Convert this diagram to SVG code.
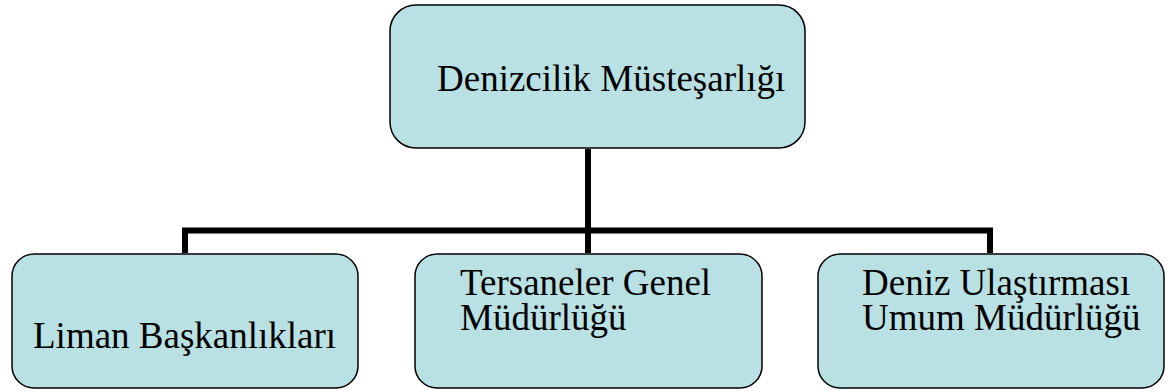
<svg xmlns="http://www.w3.org/2000/svg" width="1175" height="392" viewBox="0 0 1175 392">
<style>
.box{fill:#b9e0e3;stroke:#000;stroke-width:1.5}
.t{font-family:'Liberation Serif','Tinos','Times New Roman','DejaVu Serif',serif;font-size:37px;fill:#000}
.c{fill:none;stroke:#000;stroke-width:6}
</style>
<rect width="1175" height="392" fill="#fff"/>
<g id="connectors">
<path class="c" d="M588 149 V253"/>
<path class="c" d="M185 253 V230.5 H990 V253"/>
</g>
<g id="n0">
<rect class="box" x="390" y="5" width="415" height="143" rx="26"/>
<text class="t" x="437" y="91">Denizcilik Müsteşarlığı</text>
</g>
<g id="n1">
<rect class="box" x="12" y="254" width="346" height="134" rx="22"/>
<text class="t" x="33" y="348">Liman Başkanlıkları</text>
</g>
<g id="n2">
<rect class="box" x="415" y="254" width="347" height="134" rx="22"/>
<text class="t" x="460" y="295">Tersaneler Genel</text>
<text class="t" x="460" y="330">Müdürlüğü</text>
</g>
<g id="n3">
<rect class="box" x="818" y="254" width="346" height="134" rx="22"/>
<text class="t" x="862" y="295">Deniz Ulaştırması</text>
<text class="t" x="862" y="330">Umum Müdürlüğü</text>
</g>
</svg>
